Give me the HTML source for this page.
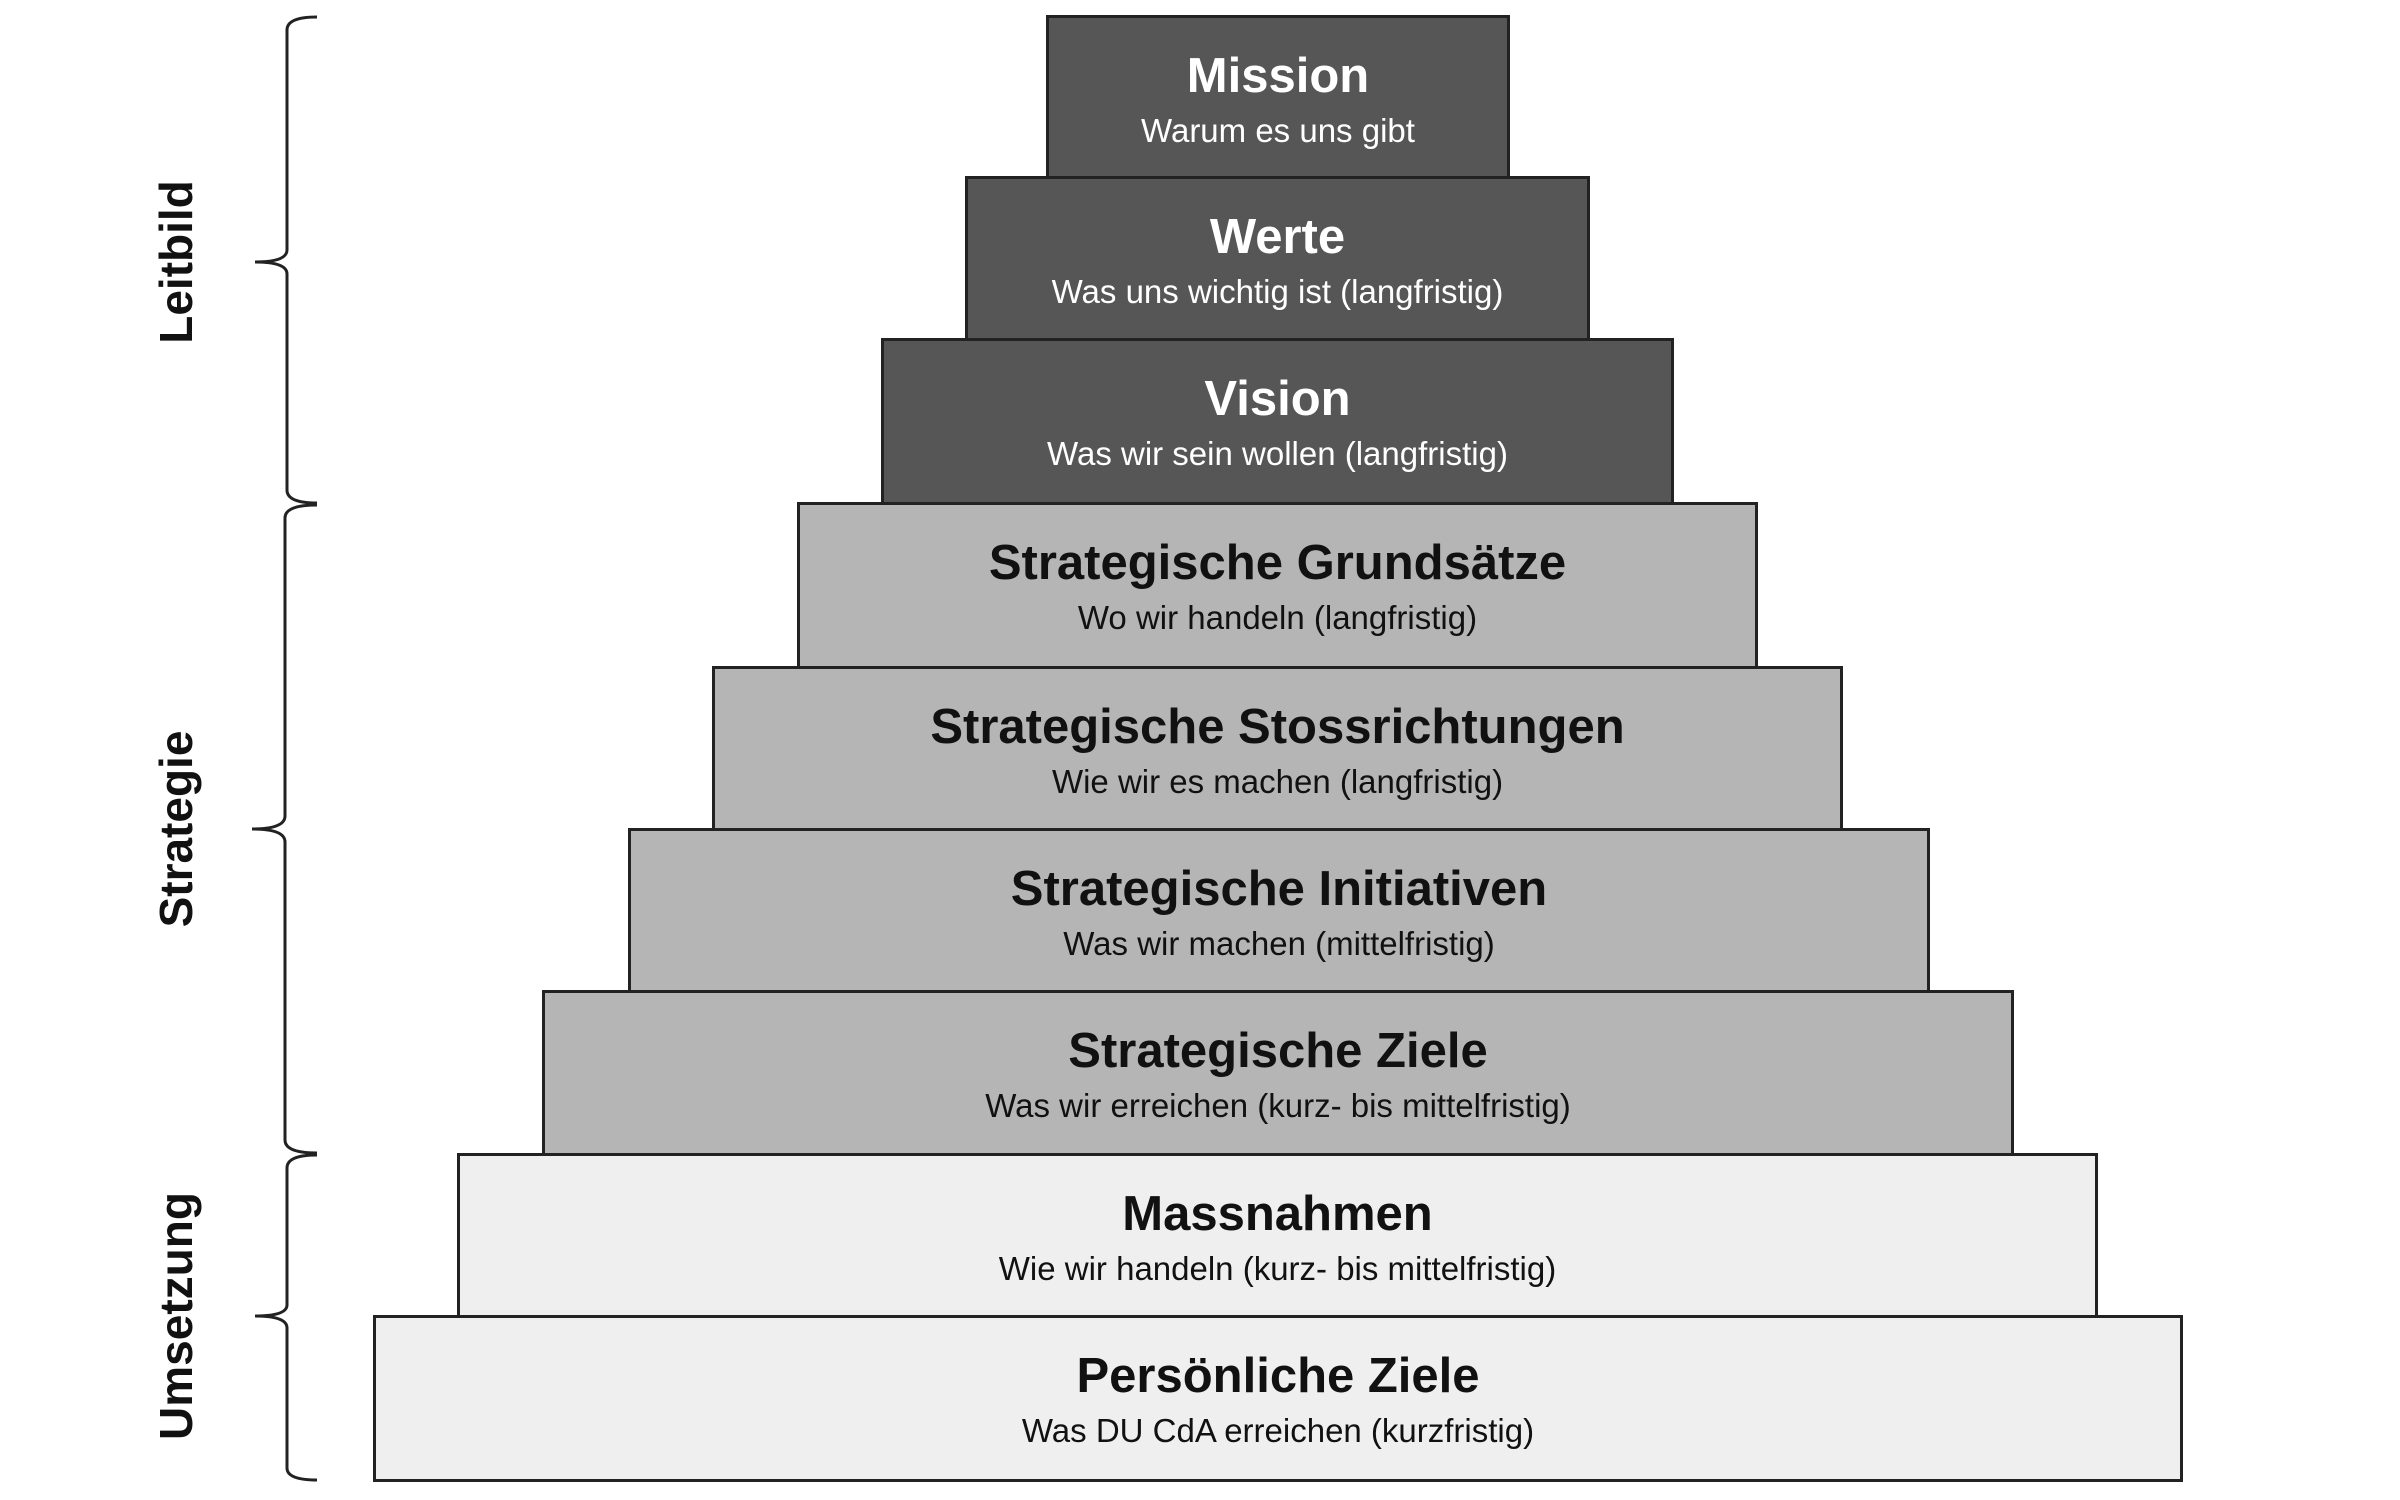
<!DOCTYPE html>
<html><head><meta charset="utf-8"><style>
html,body{margin:0;padding:0;background:#fff;}
body{width:2400px;height:1500px;position:relative;overflow:hidden;font-family:"Liberation Sans",Arial,sans-serif;}
.b{position:absolute;box-sizing:border-box;border:3px solid #222;text-align:center;}
.t{position:absolute;left:0;right:0;top:30px;font-weight:bold;font-size:49px;line-height:56px;}
.s{position:absolute;left:0;right:0;top:93px;font-size:33px;line-height:40px;}
.d{background:#565656;color:#fff;}
.m{background:#b5b5b5;color:#111;}
.l{background:#efefef;color:#111;}
.lab{position:absolute;font-weight:bold;font-size:46px;transform:translate(-50%,-50%) rotate(-90deg);white-space:nowrap;color:#111;}
</style></head><body>
<div class="b d" style="left:1046px;top:15px;width:464px;height:164px"><div class="t">Mission</div><div class="s">Warum es uns gibt</div></div>
<div class="b d" style="left:965px;top:176px;width:625px;height:165px"><div class="t">Werte</div><div class="s">Was uns wichtig ist (langfristig)</div></div>
<div class="b d" style="left:881px;top:338px;width:793px;height:167px"><div class="t">Vision</div><div class="s">Was wir sein wollen (langfristig)</div></div>
<div class="b m" style="left:797px;top:502px;width:961px;height:167px"><div class="t">Strategische Grundsätze</div><div class="s">Wo wir handeln (langfristig)</div></div>
<div class="b m" style="left:712px;top:666px;width:1131px;height:165px"><div class="t">Strategische Stossrichtungen</div><div class="s">Wie wir es machen (langfristig)</div></div>
<div class="b m" style="left:628px;top:828px;width:1302px;height:165px"><div class="t">Strategische Initiativen</div><div class="s">Was wir machen (mittelfristig)</div></div>
<div class="b m" style="left:542px;top:990px;width:1472px;height:166px"><div class="t">Strategische Ziele</div><div class="s">Was wir erreichen (kurz-  bis mittelfristig)</div></div>
<div class="b l" style="left:457px;top:1153px;width:1641px;height:165px"><div class="t">Massnahmen</div><div class="s">Wie wir handeln (kurz-  bis mittelfristig)</div></div>
<div class="b l" style="left:373px;top:1315px;width:1810px;height:167px"><div class="t">Persönliche Ziele</div><div class="s">Was DU CdA erreichen (kurzfristig)</div></div>
<svg width="2400" height="1500" style="position:absolute;left:0;top:0" fill="none" stroke="#222" stroke-width="3">
<path d="M317 17 Q287 17 287 30 L287 250 Q287 262 255 262 Q287 262 287 274 L287 490 Q287 503 317 503"/>
<path d="M317 505 Q285 505 285 518 L285 816 Q285 829 252 829 Q285 829 285 842 L285 1140 Q285 1153 317 1153"/>
<path d="M317 1155 Q287 1155 287 1168 L287 1305 Q287 1316 255 1316 Q287 1316 287 1328 L287 1468 Q287 1480 317 1480"/>
</svg>
<div class="lab" style="left:176px;top:262px">Leitbild</div>
<div class="lab" style="left:176px;top:829px">Strategie</div>
<div class="lab" style="left:176px;top:1316px">Umsetzung</div>
</body></html>
